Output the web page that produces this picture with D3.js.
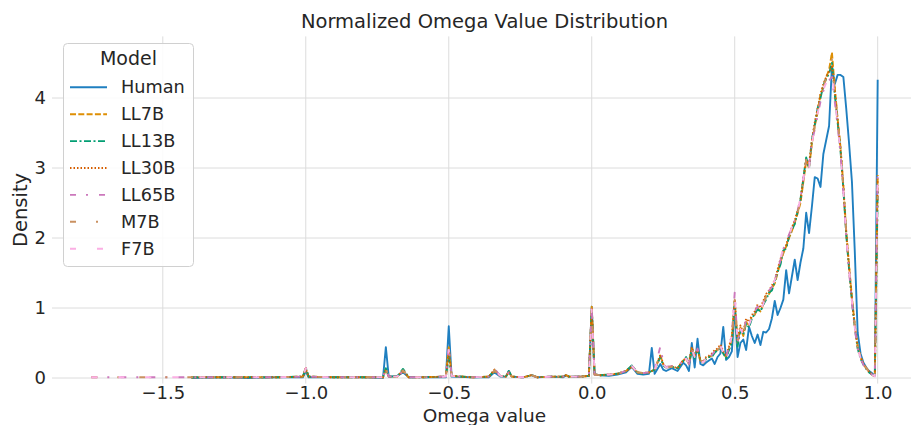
<!DOCTYPE html>
<html>
<head>
<meta charset="utf-8">
<script src="https://cdn.jsdelivr.net/npm/d3@7"></script>
<style>
  body { margin: 0; background: #fff; }
  text { font-family: "DejaVu Sans", sans-serif; fill: #262626; }
</style>
</head>
<body>
<div id="chart"></div>
<script>
// omega value grid (shared by all models)
const omega = [
  -1.75, -1.7, -1.65, -1.6, -1.55, -1.5, -1.45,
  -1.4, -1.3, -1.2, -1.1, -1.01, -1.0, -0.99, -0.9, -0.8, -0.73,
  -0.72, -0.71, -0.68, -0.66, -0.64, -0.6, -0.51, -0.5, -0.49, -0.42,
  -0.36, -0.34, -0.32, -0.3, -0.29, -0.28, -0.24, -0.21, -0.19, -0.14,
  -0.1, -0.09, -0.08, -0.04, -0.01,
  0.0, 0.01, 0.03, 0.06, 0.09, 0.12, 0.14, 0.16, 0.18, 0.2,
  0.21, 0.22, 0.24, 0.25, 0.26, 0.28, 0.3, 0.32, 0.33, 0.34,
  0.35, 0.36, 0.37, 0.38, 0.39, 0.4, 0.41, 0.42, 0.43, 0.44,
  0.45, 0.46, 0.47, 0.48, 0.49,
  0.5, 0.51, 0.52, 0.53, 0.54, 0.55, 0.56, 0.57, 0.58, 0.59,
  0.6, 0.61, 0.62, 0.63, 0.64, 0.65, 0.66, 0.67, 0.68, 0.69,
  0.7, 0.71, 0.72, 0.73, 0.74, 0.75, 0.76, 0.77, 0.78, 0.79,
  0.8, 0.81, 0.82, 0.83, 0.84, 0.85, 0.86, 0.87, 0.88, 0.89,
  0.9, 0.91, 0.92, 0.93, 0.94, 0.95, 0.96, 0.97, 0.98, 0.99,
  1.0
];

const human = [
  null, null, null, null, null, null, null,
  0.0, 0.01, 0.0, 0.01, 0.01, 0.1, 0.01, 0.01, 0.01, 0.0,
  0.44, 0.02, 0.03, 0.08, 0.01, 0.01, 0.01, 0.74, 0.02, 0.01,
  0.01, 0.08, 0.02, 0.02, 0.1, 0.02, 0.01, 0.04, 0.01, 0.02,
  0.01, 0.04, 0.02, 0.02, 0.03,
  1.02, 0.05, 0.04, 0.03, 0.05, 0.08, 0.16, 0.06, 0.05, 0.06,
  0.43, 0.06, 0.2, 0.12, 0.1, 0.14, 0.1, 0.22, 0.18, 0.1,
  0.5, 0.15, 0.56, 0.2, 0.18, 0.22, 0.25, 0.28, 0.2, 0.3,
  0.35, 0.73, 0.26, 0.3, 0.38,
  1.0, 0.3, 0.5, 0.55, 0.4, 0.73, 0.6, 0.5, 0.62, 0.47,
  0.66, 0.65, 0.7, 0.85, 1.1, 0.9, 1.0, 1.12, 1.54, 1.21,
  1.45, 1.69, 1.4, 1.65, 1.85, 2.36, 2.07, 2.45, 2.87, 2.85,
  2.73, 3.2, 3.4, 3.6, 4.45, 4.2, 4.33, 4.33, 4.3, 3.85,
  3.35, 2.8, 1.8, 0.65, 0.35, 0.22, 0.15, 0.1, 0.07, 0.03,
  4.26
];

const ll7b = [
  null, null, null, null, null, null, null,
  0.01, 0.01, 0.01, 0.01, 0.02, 0.14, 0.02, 0.01, 0.01, 0.01,
  0.12, 0.02, 0.02, 0.1, 0.01, 0.01, 0.02, 0.44, 0.03, 0.01,
  0.02, 0.1, 0.03, 0.02, 0.09, 0.02, 0.01, 0.04, 0.01, 0.02,
  0.02, 0.04, 0.02, 0.02, 0.03,
  1.02, 0.05, 0.04, 0.05, 0.06, 0.1, 0.17, 0.08, 0.07, 0.08,
  0.1, 0.12, 0.32, 0.2, 0.15, 0.16, 0.14, 0.25, 0.28, 0.2,
  0.42, 0.3, 0.4, 0.25, 0.22, 0.28, 0.3, 0.32, 0.38, 0.4,
  0.45, 0.35, 0.3, 0.42, 0.55,
  1.1, 0.5, 0.72, 0.6, 0.8, 0.75, 0.88, 0.9, 1.0, 0.95,
  1.05, 1.18, 1.2, 1.28, 1.35, 1.5, 1.65, 1.78, 1.88, 2.0,
  2.1, 2.22, 2.35, 2.5, 2.8, 3.1, 3.0, 3.35, 3.6, 3.8,
  4.05, 4.15, 4.3, 4.4, 4.65, 4.15, 3.7, 3.3, 2.75, 2.1,
  1.6, 1.15, 0.75, 0.45, 0.3, 0.2, 0.14, 0.09, 0.05, 0.02,
  2.9
];

const ll13b = [
  null, null, null, null, null, null, null,
  0.01, 0.01, 0.01, 0.01, 0.02, 0.15, 0.02, 0.01, 0.01, 0.01,
  0.14, 0.02, 0.02, 0.13, 0.01, 0.01, 0.02, 0.3, 0.03, 0.01,
  0.02, 0.11, 0.03, 0.02, 0.1, 0.02, 0.01, 0.04, 0.01, 0.02,
  0.02, 0.04, 0.02, 0.02, 0.03,
  0.98, 0.05, 0.04, 0.05, 0.06, 0.1, 0.18, 0.08, 0.06, 0.08,
  0.1, 0.12, 0.3, 0.18, 0.15, 0.16, 0.14, 0.24, 0.3, 0.2,
  0.4, 0.28, 0.42, 0.25, 0.22, 0.27, 0.3, 0.3, 0.36, 0.4,
  0.43, 0.35, 0.28, 0.4, 0.5,
  1.1, 0.45, 0.68, 0.62, 0.78, 0.72, 0.85, 0.92, 0.98, 0.95,
  1.05, 1.12, 1.22, 1.25, 1.38, 1.52, 1.62, 1.82, 1.85, 2.02,
  2.12, 2.2, 2.38, 2.55, 2.85, 3.15, 3.0, 3.4, 3.62, 3.85,
  4.0, 4.18, 4.28, 4.35, 4.5, 4.05, 3.65, 3.25, 2.7, 2.05,
  1.55, 1.1, 0.72, 0.42, 0.28, 0.19, 0.13, 0.08, 0.05, 0.02,
  2.7
];

const ll30b = [
  null, null, null, null, null, null, null,
  0.01, 0.01, 0.01, 0.01, 0.02, 0.14, 0.02, 0.01, 0.01, 0.01,
  0.12, 0.02, 0.02, 0.11, 0.01, 0.01, 0.02, 0.38, 0.03, 0.01,
  0.02, 0.12, 0.03, 0.02, 0.09, 0.02, 0.01, 0.04, 0.01, 0.02,
  0.02, 0.04, 0.02, 0.02, 0.03,
  1.0, 0.05, 0.04, 0.05, 0.06, 0.1, 0.16, 0.08, 0.07, 0.08,
  0.1, 0.13, 0.33, 0.2, 0.15, 0.17, 0.14, 0.26, 0.27, 0.22,
  0.44, 0.32, 0.4, 0.26, 0.23, 0.3, 0.32, 0.35, 0.4, 0.42,
  0.48, 0.38, 0.32, 0.45, 0.6,
  1.12, 0.55, 0.75, 0.65, 0.85, 0.8, 0.9, 0.95, 1.05, 1.0,
  1.1, 1.2, 1.25, 1.32, 1.4, 1.55, 1.7, 1.82, 1.9, 2.05,
  2.15, 2.25, 2.4, 2.55, 2.85, 3.12, 3.05, 3.4, 3.65, 3.85,
  4.05, 4.2, 4.3, 4.38, 4.45, 4.1, 3.68, 3.28, 2.72, 2.08,
  1.58, 1.12, 0.74, 0.44, 0.3, 0.2, 0.14, 0.09, 0.05, 0.02,
  2.85
];

const ll65b = [
  0.01, 0.01, 0.01, 0.01, 0.01, 0.01, 0.01,
  0.01, 0.01, 0.01, 0.01, 0.02, 0.14, 0.02, 0.01, 0.01, 0.01,
  0.14, 0.02, 0.02, 0.1, 0.01, 0.01, 0.02, 0.45, 0.03, 0.01,
  0.02, 0.13, 0.03, 0.02, 0.08, 0.02, 0.01, 0.03, 0.01, 0.02,
  0.02, 0.04, 0.02, 0.02, 0.03,
  1.0, 0.05, 0.04, 0.05, 0.06, 0.1, 0.18, 0.08, 0.07, 0.08,
  0.1, 0.13, 0.45, 0.22, 0.16, 0.17, 0.15, 0.26, 0.28, 0.2,
  0.4, 0.3, 0.42, 0.26, 0.22, 0.28, 0.3, 0.33, 0.38, 0.42,
  0.47, 0.36, 0.3, 0.44, 0.62,
  1.22, 0.5, 0.72, 0.62, 0.85, 0.78, 0.88, 0.95, 1.02, 0.98,
  1.08, 1.2, 1.25, 1.3, 1.4, 1.55, 1.68, 1.85, 1.9, 2.05,
  2.15, 2.25, 2.4, 2.55, 2.85, 3.1, 3.02, 3.38, 3.55, 3.75,
  3.95, 4.1, 4.2, 4.25, 4.3, 3.95, 3.6, 3.2, 2.65, 2.02,
  1.52, 1.08, 0.7, 0.42, 0.28, 0.19, 0.13, 0.08, 0.05, 0.02,
  2.95
];

const m7b = [
  0.01, 0.01, 0.01, 0.01, 0.01, 0.01, 0.01,
  0.01, 0.01, 0.01, 0.01, 0.02, 0.15, 0.02, 0.01, 0.01, 0.01,
  0.12, 0.02, 0.02, 0.11, 0.01, 0.01, 0.02, 0.4, 0.03, 0.01,
  0.02, 0.11, 0.03, 0.02, 0.09, 0.02, 0.01, 0.04, 0.01, 0.02,
  0.02, 0.04, 0.02, 0.02, 0.03,
  1.0, 0.05, 0.04, 0.05, 0.06, 0.1, 0.17, 0.08, 0.07, 0.08,
  0.1, 0.12, 0.32, 0.2, 0.15, 0.16, 0.14, 0.25, 0.28, 0.2,
  0.42, 0.3, 0.4, 0.25, 0.22, 0.28, 0.3, 0.32, 0.38, 0.4,
  0.45, 0.35, 0.3, 0.42, 0.56,
  1.12, 0.5, 0.7, 0.62, 0.82, 0.76, 0.86, 0.92, 1.0, 0.96,
  1.06, 1.16, 1.22, 1.28, 1.36, 1.52, 1.66, 1.8, 1.88, 2.02,
  2.12, 2.22, 2.36, 2.52, 2.82, 3.12, 3.02, 3.36, 3.6, 3.82,
  4.02, 4.15, 4.28, 4.38, 4.55, 4.1, 3.68, 3.28, 2.72, 2.08,
  1.58, 1.12, 0.74, 0.44, 0.3, 0.2, 0.14, 0.09, 0.05, 0.02,
  2.6
];

const f7b = [
  0.01, 0.01, 0.01, 0.01, 0.01, 0.01, 0.01,
  0.01, 0.01, 0.01, 0.01, 0.02, 0.14, 0.02, 0.01, 0.01, 0.01,
  0.12, 0.02, 0.02, 0.1, 0.01, 0.01, 0.02, 0.4, 0.03, 0.01,
  0.02, 0.12, 0.03, 0.02, 0.09, 0.02, 0.01, 0.04, 0.01, 0.02,
  0.02, 0.04, 0.02, 0.02, 0.03,
  0.98, 0.05, 0.04, 0.05, 0.06, 0.1, 0.17, 0.08, 0.07, 0.08,
  0.1, 0.12, 0.34, 0.2, 0.15, 0.16, 0.14, 0.25, 0.28, 0.2,
  0.42, 0.3, 0.41, 0.25, 0.22, 0.28, 0.3, 0.32, 0.38, 0.41,
  0.46, 0.35, 0.3, 0.43, 0.6,
  1.18, 0.5, 0.7, 0.62, 0.82, 0.76, 0.86, 0.94, 1.0, 0.96,
  1.06, 1.18, 1.24, 1.3, 1.4, 1.55, 1.7, 1.86, 1.9, 2.05,
  2.15, 2.25, 2.4, 2.55, 2.85, 3.1, 3.0, 3.35, 3.58, 3.78,
  3.98, 4.12, 4.22, 4.3, 4.35, 4.0, 3.6, 3.22, 2.68, 2.05,
  1.55, 1.1, 0.72, 0.43, 0.29, 0.19, 0.13, 0.08, 0.05, 0.02,
  2.95
];

const models = ['Human', 'LL7B', 'LL13B', 'LL30B', 'LL65B', 'M7B', 'F7B'];
const modelValues = [human, ll7b, ll13b, ll30b, ll65b, m7b, f7b];
const colors = ['#1f7fc0', '#de8f05', '#029e73', '#d55e00', '#cc78bc', '#ca9161', '#fbafe4'];
const dashes = ['none', '6,2.3', '7,2.5,2,2.5', '1.5,2', '6,10,2,11', '6,20,2,20', '6,21'];

const xTicks = [-1.5, -1.0, -0.5, 0.0, 0.5, 1.0];
const yTicks = [0, 1, 2, 3, 4];

function drawChart() {
    const W = 911, H = 425;
    const left = 52, right = 917, top = 36.4, bottom = 383.6;

    const svg = d3.select('#chart')
        .append('svg')
        .attr('width', W)
        .attr('height', H);

    const x = d3.scaleLinear().domain([-1.8875, 1.1375]).range([left, right]);
    const y = d3.scaleLinear().domain([-0.08, 4.88]).range([bottom, top]);

    // grid
    svg.append('g')
        .selectAll('line')
        .data(xTicks)
        .enter().append('line')
        .attr('x1', d => x(d)).attr('x2', d => x(d))
        .attr('y1', top).attr('y2', bottom)
        .attr('stroke', '#dcdcdc').attr('stroke-width', 1);

    svg.append('g')
        .selectAll('line')
        .data(yTicks)
        .enter().append('line')
        .attr('x1', left).attr('x2', right)
        .attr('y1', d => y(d)).attr('y2', d => y(d))
        .attr('stroke', '#dcdcdc').attr('stroke-width', 1);

    // axes without domain lines or tick marks (despined)
    const xAxis = svg.append('g')
        .attr('transform', `translate(0,${bottom})`)
        .call(d3.axisBottom(x).tickValues(xTicks).tickFormat(d3.format('.1f')).tickSize(0).tickPadding(2.5));
    xAxis.select('.domain').remove();
    xAxis.selectAll('text').attr('dy', '0.71em').style('font-size', '18px').style('font-family', 'DejaVu Sans');

    const yAxis = svg.append('g')
        .attr('transform', `translate(${left},0)`)
        .call(d3.axisLeft(y).tickValues(yTicks).tickFormat(d3.format('d')).tickSize(0).tickPadding(6));
    yAxis.select('.domain').remove();
    yAxis.selectAll('text').style('font-size', '18px').style('font-family', 'DejaVu Sans');

    svg.append('clipPath').attr('id', 'plotClip')
        .append('rect')
        .attr('x', left).attr('y', top)
        .attr('width', right - left).attr('height', bottom - top);

    const line = d3.line()
        .defined(d => d[1] !== null)
        .x(d => x(d[0]))
        .y(d => y(d[1]));

    const lines = svg.append('g').attr('clip-path', 'url(#plotClip)');
    models.forEach((m, i) => {
        const pts = omega.map((o, j) => [o, modelValues[i][j]]);
        lines.append('path')
            .datum(pts)
            .attr('d', line)
            .attr('fill', 'none')
            .attr('stroke', colors[i])
            .attr('stroke-width', 1.9)
            .attr('stroke-dasharray', dashes[i])
            .attr('stroke-linejoin', 'round');
    });

    // Labels
    svg.append('text')
        .attr('x', (left + right) / 2)
        .attr('y', 28)
        .style('text-anchor', 'middle')
        .style('font-size', '19.5px')
        .text('Normalized Omega Value Distribution');

    svg.append('text')
        .attr('x', (left + right) / 2)
        .attr('y', 421.5)
        .style('text-anchor', 'middle')
        .style('font-size', '18.5px')
        .text('Omega value');

    svg.append('text')
        .attr('transform', 'rotate(-90)')
        .attr('x', -(top + bottom) / 2)
        .attr('y', 27)
        .style('text-anchor', 'middle')
        .style('font-size', '19.5px')
        .text('Density');

    // Legend
    const lg = svg.append('g');
    lg.append('rect')
        .attr('x', 63.5).attr('y', 43.5)
        .attr('width', 130).attr('height', 223)
        .attr('rx', 4)
        .attr('fill', 'white').attr('fill-opacity', 0.85)
        .attr('stroke', '#d0d0d0');

    lg.append('text')
        .attr('x', 128.5).attr('y', 65)
        .style('text-anchor', 'middle')
        .style('font-size', '19px')
        .text('Model');

    models.forEach((m, i) => {
        const cy = 87.3 + i * 26.9;
        lg.append('line')
            .attr('x1', 70).attr('x2', 107)
            .attr('y1', cy).attr('y2', cy)
            .attr('stroke', colors[i])
            .attr('stroke-width', 1.9)
            .attr('stroke-dasharray', dashes[i]);
        lg.append('text')
            .attr('x', 121).attr('y', cy)
            .attr('dy', '0.35em')
            .style('font-size', '17.7px')
            .text(m);
    });
}

drawChart();
</script>
</body>
</html>
